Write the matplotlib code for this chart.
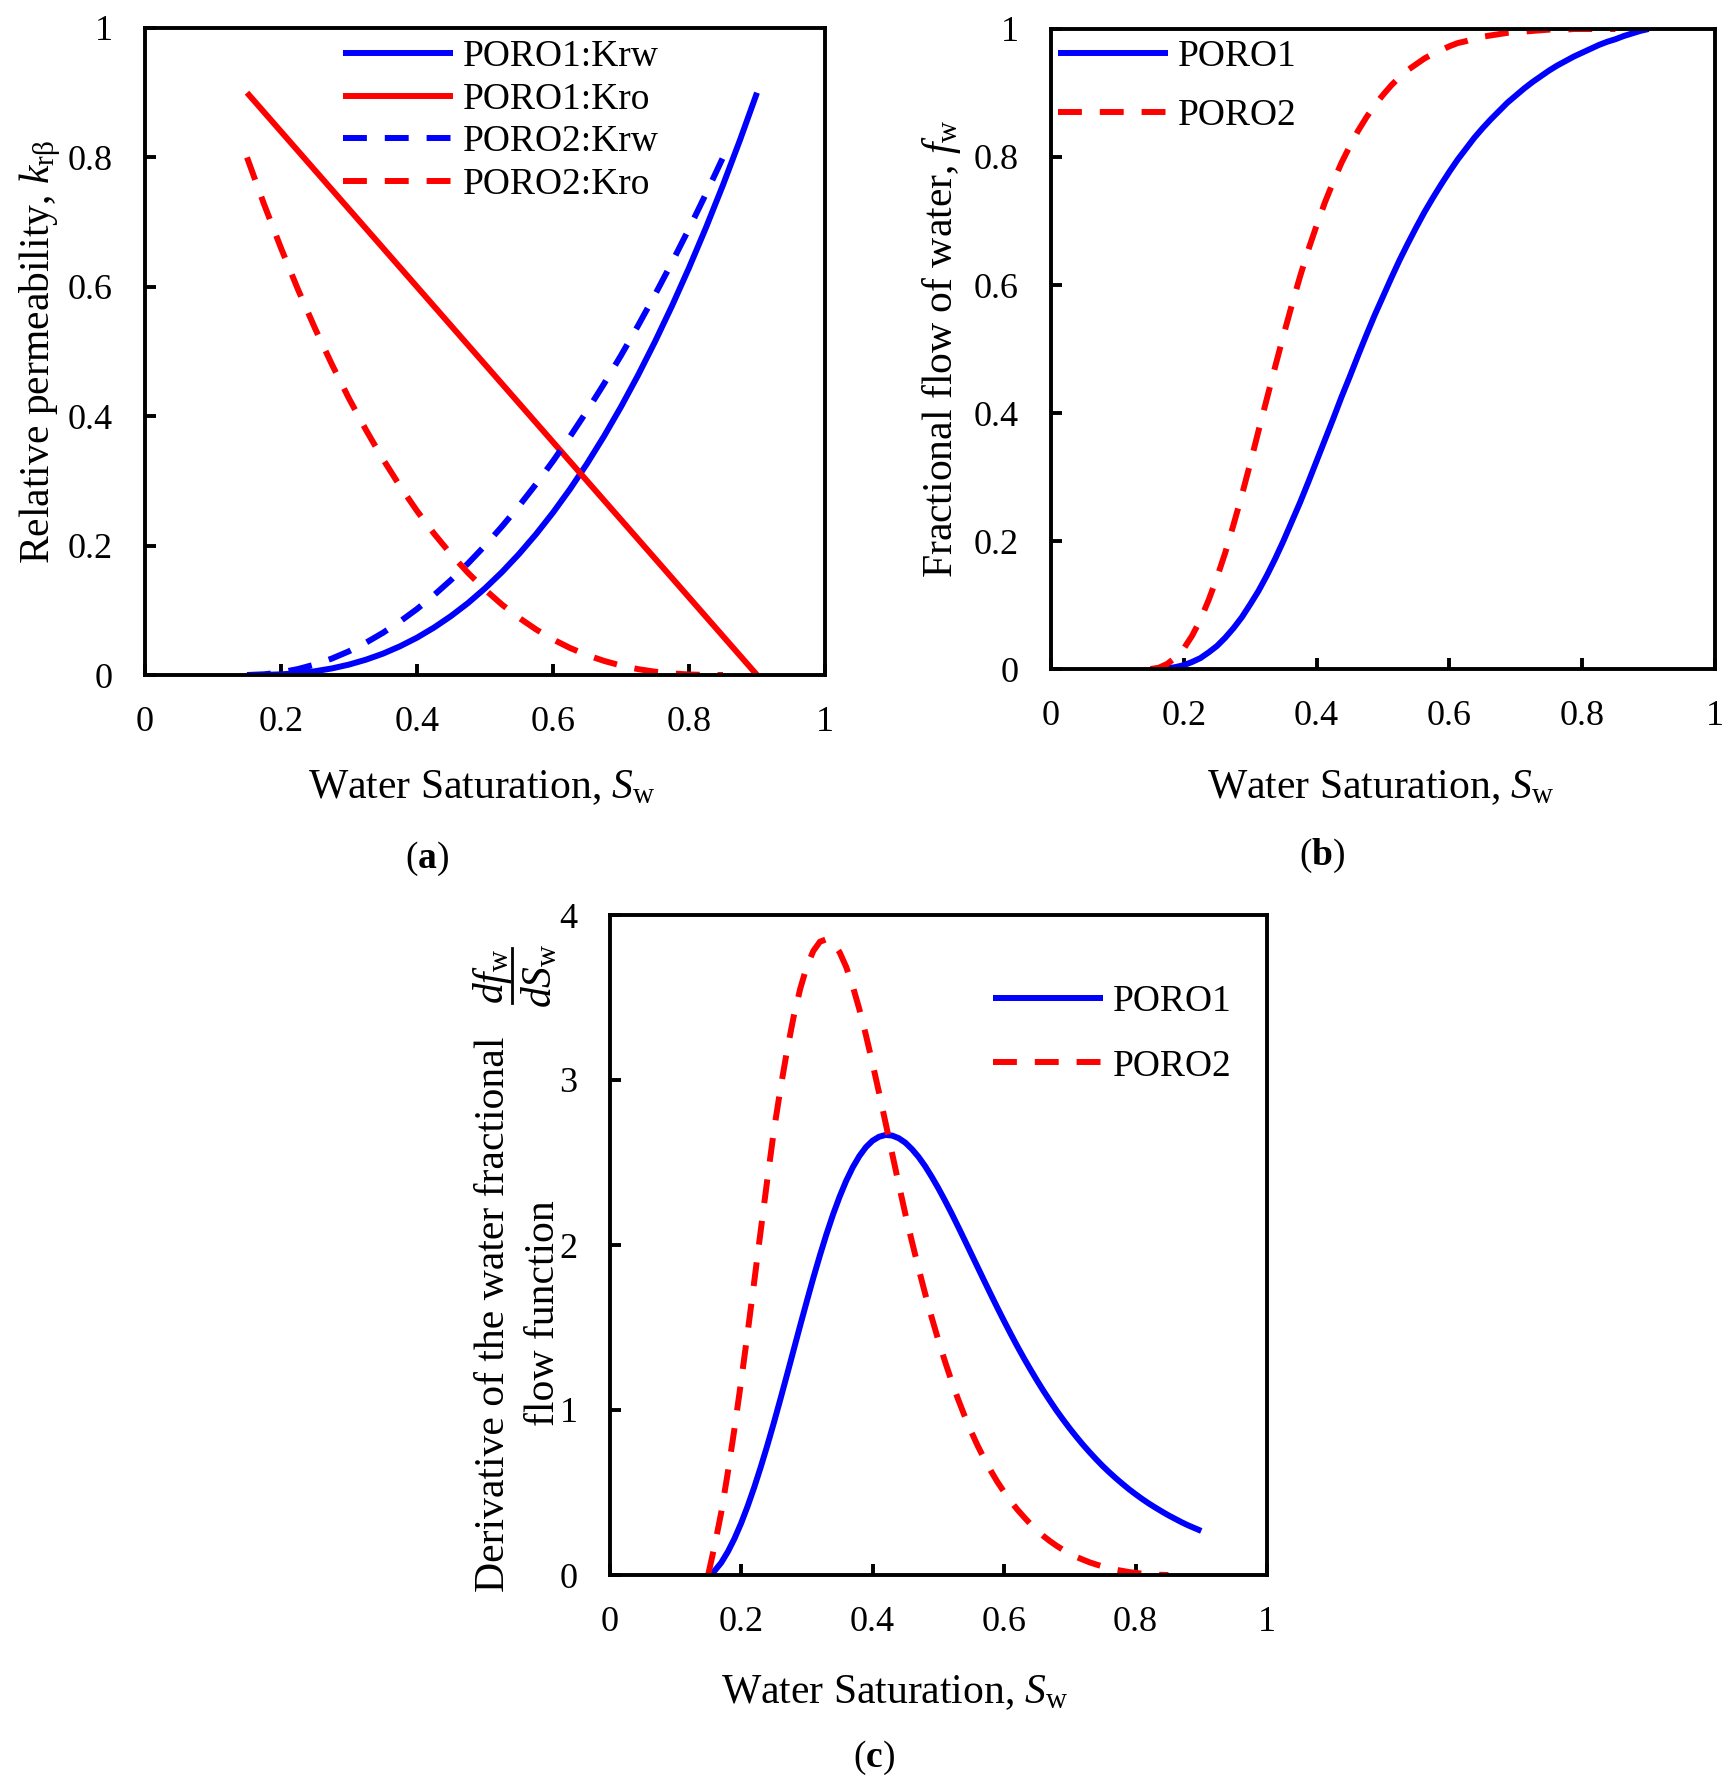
import matplotlib
matplotlib.use('Agg')
import matplotlib.pyplot as plt
from matplotlib.lines import Line2D

# ---------------- data ----------------
# (a) relative permeability
sw_kr1 = [0.150, 0.175, 0.200, 0.225, 0.250, 0.275, 0.300, 0.325, 0.350, 0.375, 0.400,
          0.425, 0.450, 0.475, 0.500, 0.525, 0.550, 0.575, 0.600, 0.625, 0.650, 0.675,
          0.700, 0.725, 0.750, 0.775, 0.800, 0.825, 0.850, 0.875, 0.900]
poro1_krw = [0.0000, 0.0002, 0.0010, 0.0028, 0.0058, 0.0102, 0.0161, 0.0237, 0.0330, 0.0444,
             0.0577, 0.0733, 0.0911, 0.1112, 0.1339, 0.1591, 0.1870, 0.2176, 0.2510, 0.2873,
             0.3266, 0.3690, 0.4145, 0.4632, 0.5152, 0.5705, 0.6293, 0.6916, 0.7574, 0.8269,
             0.9000]
sw_kro1 = [0.15, 0.90]
poro1_kro = [0.90, 0.0]
sw_kr2 = [0.150, 0.175, 0.200, 0.225, 0.250, 0.275, 0.300, 0.325, 0.350, 0.375, 0.400,
          0.425, 0.450, 0.475, 0.500, 0.525, 0.550, 0.575, 0.600, 0.625, 0.650, 0.675,
          0.700, 0.725, 0.750, 0.775, 0.800, 0.825, 0.850]
poro2_krw = [0.0000, 0.0010, 0.0041, 0.0092, 0.0163, 0.0255, 0.0367, 0.0500, 0.0653, 0.0827,
             0.1020, 0.1235, 0.1469, 0.1724, 0.2000, 0.2296, 0.2612, 0.2949, 0.3306, 0.3684,
             0.4082, 0.4500, 0.4939, 0.5398, 0.5878, 0.6378, 0.6898, 0.7439, 0.8000]
poro2_kro = [0.8000, 0.7278, 0.6598, 0.5958, 0.5358, 0.4797, 0.4273, 0.3787, 0.3335, 0.2919,
             0.2536, 0.2186, 0.1867, 0.1579, 0.1320, 0.1088, 0.0884, 0.0705, 0.0550, 0.0418,
             0.0308, 0.0218, 0.0146, 0.0091, 0.0051, 0.0024, 0.0008, 0.0001, 0.0000]

# (b) fractional flow of water
sw_fw1 = [0.1500, 0.1625, 0.1750, 0.1875, 0.2000, 0.2125, 0.2250, 0.2375, 0.2500, 0.2625,
          0.2750, 0.2875, 0.3000, 0.3125, 0.3250, 0.3375, 0.3500, 0.3625, 0.3750, 0.3875,
          0.4000, 0.4125, 0.4250, 0.4375, 0.4500, 0.4625, 0.4750, 0.4875, 0.5000, 0.5125,
          0.5250, 0.5375, 0.5500, 0.5625, 0.5750, 0.5875, 0.6000, 0.6125, 0.6250, 0.6375,
          0.6500, 0.6625, 0.6750, 0.6875, 0.7000, 0.7125, 0.7250, 0.7375, 0.7500, 0.7625,
          0.7750, 0.7875, 0.8000, 0.8125, 0.8250, 0.8375, 0.8500, 0.8625, 0.8750, 0.8875,
          0.9000]
poro1_fw = [0.000, 0.000, 0.001, 0.003, 0.006, 0.011, 0.017, 0.026, 0.036, 0.049,
            0.064, 0.081, 0.101, 0.122, 0.146, 0.172, 0.200, 0.230, 0.260, 0.292,
            0.325, 0.358, 0.391, 0.425, 0.457, 0.490, 0.522, 0.553, 0.582, 0.611,
            0.639, 0.665, 0.690, 0.714, 0.736, 0.757, 0.777, 0.796, 0.813, 0.830,
            0.845, 0.859, 0.872, 0.885, 0.896, 0.907, 0.917, 0.926, 0.935, 0.943,
            0.950, 0.957, 0.963, 0.969, 0.975, 0.980, 0.984, 0.989, 0.993, 0.997,
            1.000]
sw_fw2 = [0.1500, 0.1625, 0.1750, 0.1875, 0.2000, 0.2125, 0.2250, 0.2375, 0.2500, 0.2625,
          0.2750, 0.2875, 0.3000, 0.3125, 0.3250, 0.3375, 0.3500, 0.3625, 0.3750, 0.3875,
          0.4000, 0.4125, 0.4250, 0.4375, 0.4500, 0.4625, 0.4750, 0.4875, 0.5000, 0.5125,
          0.5250, 0.5375, 0.5500, 0.5625, 0.5750, 0.5875, 0.6000, 0.6125, 0.6250, 0.6375,
          0.6500, 0.6625, 0.6750, 0.6875, 0.7000, 0.7125, 0.7250, 0.7375, 0.7500, 0.7625,
          0.7750, 0.7875, 0.8000, 0.8125, 0.8250, 0.8375, 0.8500]
poro2_fw = [0.000, 0.002, 0.008, 0.018, 0.032, 0.052, 0.077, 0.108, 0.143, 0.182,
            0.226, 0.272, 0.321, 0.372, 0.422, 0.472, 0.521, 0.568, 0.613, 0.655,
            0.693, 0.729, 0.761, 0.791, 0.817, 0.841, 0.862, 0.881, 0.897, 0.912,
            0.925, 0.936, 0.945, 0.954, 0.961, 0.967, 0.973, 0.978, 0.981, 0.985,
            0.988, 0.990, 0.992, 0.994, 0.995, 0.996, 0.997, 0.998, 0.999, 0.999,
            0.999, 1.000, 1.000, 1.000, 1.000, 1.000, 1.000]

# (c) derivative of the fractional flow function
sw_d1 = [0.15, 0.16, 0.17, 0.18, 0.19, 0.20, 0.21, 0.22, 0.23, 0.24, 0.25, 0.26, 0.27, 0.28,
         0.29, 0.30, 0.31, 0.32, 0.33, 0.34, 0.35, 0.36, 0.37, 0.38, 0.39, 0.40, 0.41, 0.42,
         0.43, 0.44, 0.45, 0.46, 0.47, 0.48, 0.49, 0.50, 0.51, 0.52, 0.53, 0.54, 0.55, 0.56,
         0.57, 0.58, 0.59, 0.60, 0.61, 0.62, 0.63, 0.64, 0.65, 0.66, 0.67, 0.68, 0.69, 0.70,
         0.71, 0.72, 0.73, 0.74, 0.75, 0.76, 0.77, 0.78, 0.79, 0.80, 0.81, 0.82, 0.83, 0.84,
         0.85, 0.86, 0.87, 0.88, 0.89, 0.90]
poro1_d = [0.000, 0.026, 0.075, 0.141, 0.220, 0.312, 0.416, 0.530, 0.654, 0.785, 0.923, 1.067,
           1.214, 1.363, 1.512, 1.658, 1.801, 1.937, 2.066, 2.185, 2.293, 2.389, 2.471, 2.539,
           2.593, 2.632, 2.656, 2.667, 2.663, 2.647, 2.620, 2.581, 2.534, 2.478, 2.414, 2.345,
           2.271, 2.194, 2.113, 2.031, 1.948, 1.865, 1.782, 1.700, 1.619, 1.540, 1.463, 1.388,
           1.316, 1.247, 1.180, 1.116, 1.055, 0.996, 0.941, 0.888, 0.838, 0.790, 0.745, 0.702,
           0.661, 0.623, 0.587, 0.553, 0.520, 0.490, 0.461, 0.434, 0.409, 0.385, 0.362, 0.341,
           0.320, 0.301, 0.284, 0.267]
sw_d2 = [0.15, 0.16, 0.17, 0.18, 0.19, 0.20, 0.21, 0.22, 0.23, 0.24, 0.25, 0.26, 0.27, 0.28,
         0.29, 0.30, 0.31, 0.32, 0.33, 0.34, 0.35, 0.36, 0.37, 0.38, 0.39, 0.40, 0.41, 0.42,
         0.43, 0.44, 0.45, 0.46, 0.47, 0.48, 0.49, 0.50, 0.51, 0.52, 0.53, 0.54, 0.55, 0.56,
         0.57, 0.58, 0.59, 0.60, 0.61, 0.62, 0.63, 0.64, 0.65, 0.66, 0.67, 0.68, 0.69, 0.70,
         0.71, 0.72, 0.73, 0.74, 0.75, 0.76, 0.77, 0.78, 0.79, 0.80, 0.81, 0.82, 0.83, 0.84,
         0.85]
poro2_d = [0.000, 0.180, 0.380, 0.622, 0.885, 1.168, 1.466, 1.775, 2.087, 2.396, 2.693, 2.947,
           3.178, 3.382, 3.552, 3.687, 3.782, 3.838, 3.853, 3.831, 3.774, 3.685, 3.568, 3.429,
           3.272, 3.101, 2.922, 2.738, 2.552, 2.367, 2.187, 2.020, 1.859, 1.706, 1.561, 1.425,
           1.297, 1.178, 1.067, 0.965, 0.870, 0.783, 0.704, 0.631, 0.564, 0.504, 0.448, 0.398,
           0.353, 0.310, 0.271, 0.236, 0.205, 0.177, 0.152, 0.130, 0.110, 0.093, 0.077, 0.064,
           0.052, 0.041, 0.032, 0.025, 0.018, 0.013, 0.008, 0.005, 0.002, 0.001, 0.000]

x_ticks = [0, 0.2, 0.4, 0.6, 0.8, 1]
x_ticklabels = ['0', '0.2', '0.4', '0.6', '0.8', '1']
y_ticks_ab = [0, 0.2, 0.4, 0.6, 0.8, 1]
y_ticklabels_ab = ['0', '0.2', '0.4', '0.6', '0.8', '1']
y_ticks_c = [0, 1, 2, 3, 4]
y_ticklabels_c = ['0', '1', '2', '3', '4']

# ---------------- style ----------------
W, H = 1735, 1787
plt.rcParams['font.family'] = ['Liberation Serif', 'DejaVu Serif']
plt.rcParams['mathtext.fontset'] = 'custom'
plt.rcParams['mathtext.rm'] = 'Liberation Serif'
plt.rcParams['mathtext.it'] = 'Liberation Serif:italic'
plt.rcParams['mathtext.bf'] = 'Liberation Serif:bold'
fig = plt.figure(figsize=(W / 100, H / 100), dpi=100)

def ax_at(l, r, t, b):
    return fig.add_axes([l / W, 1 - b / H, (r - l) / W, (b - t) / H])

lw = 4.3
dash = (0, (4.0, 3.0))
BLUE, RED = '#0000ff', '#ff0000'
TICK, LAB, LEG = 26, 30, 27

def style(ax, ymax, yt, ytl):
    ax.set_xlim(0, 1)
    ax.set_ylim(0, ymax)
    ax.set_xticks(x_ticks, x_ticklabels)
    ax.set_yticks(yt, ytl)
    for s in ax.spines.values():
        s.set_linewidth(2.8)
    ax.tick_params(direction='in', length=8, width=2.8, labelsize=TICK)
    ax.tick_params(axis='x', pad=22)
    ax.tick_params(axis='y', pad=23)

leg_kw = dict(loc='upper left', frameon=False, fontsize=LEG, borderpad=0, borderaxespad=0,
              handlelength=2.93, handletextpad=0.27)
line_kw = dict(lw=lw, solid_joinstyle='round', solid_capstyle='butt')

# (a)
axa = ax_at(145, 825, 28, 675)
axa.plot(sw_kr1, poro1_krw, color=BLUE, label='PORO1:Krw', **line_kw)
axa.plot(sw_kro1, poro1_kro, color=RED, label='PORO1:Kro', **line_kw)
axa.plot(sw_kr2, poro2_krw, color=BLUE, ls=dash, label='PORO2:Krw', **line_kw)
axa.plot(sw_kr2, poro2_kro, color=RED, ls=dash, label='PORO2:Kro', **line_kw)
style(axa, 1, y_ticks_ab, y_ticklabels_ab)
axa.legend(bbox_to_anchor=(0.291, 0.982), labelspacing=0.216, **leg_kw)

# (b)
axb = ax_at(1051, 1715, 29, 669)
axb.plot(sw_fw1, poro1_fw, color=BLUE, label='PORO1', **line_kw)
axb.plot(sw_fw2, poro2_fw, color=RED, ls=dash, label='PORO2', **line_kw)
style(axb, 1, y_ticks_ab, y_ticklabels_ab)
axb.legend(bbox_to_anchor=(0.01, 0.984), labelspacing=0.66, **leg_kw)

# (c)
axc = ax_at(609.5, 1267, 915, 1575)
axc.plot(sw_d1, poro1_d, color=BLUE, label='PORO1', **line_kw)
axc.plot(sw_d2, poro2_d, color=RED, ls=dash, label='PORO2', **line_kw)
style(axc, 4, y_ticks_c, y_ticklabels_c)
axc.legend(bbox_to_anchor=(0.583, 0.894), labelspacing=0.79, **leg_kw)

# ---------------- labels ----------------
def ftext(x, y, s, **kw):
    kw.setdefault('fontsize', LAB)
    return fig.text(x / W, 1 - y / H, s, **kw)

rot = dict(rotation=90, rotation_mode='anchor', ha='center', va='baseline')
ftext(49, 352, r"Relative permeability, $k_\mathrm{r\beta}$", **rot)
ftext(952, 349, r"Fractional flow of water, $f_\mathrm{w}$", **rot)
ftext(504, 1314, "Derivative of the water fractional", **rot)
ftext(554, 1313, "flow function", **rot)
ftext(503, 976, r"$df_\mathrm{w}$", **rot)
ftext(551, 976, r"$dS_\mathrm{w}$", **rot)
fig.add_artist(Line2D([512 / W, 512 / W], [1 - 948 / H, 1 - 1003 / H], color='black', lw=2))
ftext(482, 798, r"Water Saturation, $S_\mathrm{w}$", ha='center', va='baseline')
ftext(1381, 798, r"Water Saturation, $S_\mathrm{w}$", ha='center', va='baseline')
ftext(895, 1703, r"Water Saturation, $S_\mathrm{w}$", ha='center', va='baseline')
ftext(427, 859, r"($\mathbf{a}$)", ha='center', va='center', fontsize=27)
ftext(1322, 856, r"($\mathbf{b}$)", ha='center', va='center', fontsize=27)
ftext(874, 1758, r"($\mathbf{c}$)", ha='center', va='center', fontsize=27)

fig.savefig('out.png', dpi=100)
